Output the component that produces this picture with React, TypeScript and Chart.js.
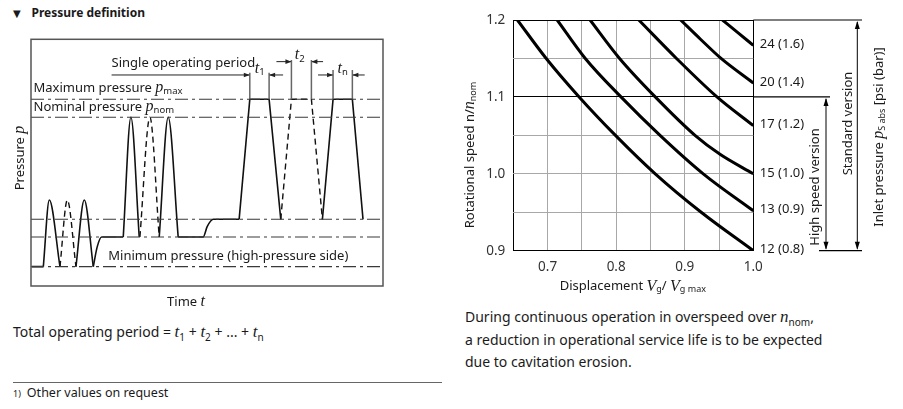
import React, { useEffect, useRef } from 'react';
import { Chart, registerables } from 'chart.js';

Chart.register(...registerables);

// ---------------- Right chart: rotational speed vs displacement ----------------
const curvePsi = [12, 13, 15, 17, 20, 24];
const curveBar = [0.8, 0.9, 1.0, 1.2, 1.4, 1.6];

const disp12 = [0.656, 0.698, 0.746, 0.799, 0.857, 0.924, 1.0];
const speed12 = [1.2, 1.15, 1.1, 1.05, 1.0, 0.95, 0.9];
const disp13 = [0.714, 0.755, 0.807, 0.864, 0.927, 1.0];
const speed13 = [1.2, 1.15, 1.1, 1.05, 1.0, 0.952];
const disp15 = [0.762, 0.805, 0.857, 0.915, 0.952, 1.0];
const speed15 = [1.2, 1.15, 1.1, 1.05, 1.025, 1.0];
const disp17 = [0.833, 0.888, 0.947, 1.0];
const speed17 = [1.2, 1.15, 1.1, 1.0626];
const disp20 = [0.894, 0.923, 0.953, 1.0];
const speed20 = [1.2, 1.175, 1.15, 1.118];
const disp24 = [0.955, 0.977, 1.0];
const speed24 = [1.2, 1.184, 1.167];

const xTickLabels = [0.7, 0.8, 0.9, 1.0];
const yTickLabels = [0.9, 1.0, 1.1, 1.2];
const blackXLines = [0.65, 1.0];
const blackYLines = [0.9, 1.1, 1.2];
const highSpeedRange = [0.9, 1.1];
const standardRange = [0.9, 1.2];

// ---------------- Left diagram: pressure definition (schematic units) ----------------
const levelP = [560, 506, 200, 147, 58]; // p max, p nom, two working levels, p min
const startFlatT = [2, 37];
const startFlatP = [58, 58];
const pulse1T = [37, 55, 87];
const pulse1P = [58, 258, 58];
const pulse2T = [87, 109, 135];
const pulse2P = [58, 258, 58];
const pulse3T = [135, 160, 187];
const pulse3P = [58, 258, 58];
const step1T = [187, 199, 212, 277];
const step1P = [58, 118, 147, 147];
const pulse4T = [277, 300, 325];
const pulse4P = [147, 506, 147];
const pulse5T = [327, 357, 385];
const pulse5P = [147, 506, 147];
const pulse6T = [385, 412, 442];
const pulse6P = [147, 506, 147];
const step2T = [442, 517, 529, 547, 625];
const step2P = [147, 147, 178, 200, 200];
const period1T = [625, 657, 715, 750];
const period2T = [750, 782, 842, 875];
const periodNT = [875, 907, 965, 997];
const periodP = [200, 560, 560, 200];
const markT = [657, 715, 782, 842, 907, 965];
const markTop = [640, 640, 678, 678, 648, 648];
const arrowSingleT = [242, 657];
const arrowT1T = [757, 715];
const arrowT2aT = [737, 782];
const arrowT2bT = [877, 842];
const arrowTnaT = [862, 907];
const arrowTnbT = [1002, 965];
const arrowP = [633, 633, 673, 673, 633, 633];

const SANS = '"Noto Sans", "Open Sans", "DejaVu Sans", sans-serif';
const SERIF = '"Liberation Serif", "DejaVu Serif", serif';
const INK = '#1a1a1a';

type Seg = { t: string; f: string; dy?: number };

function drawRich(
  ctx: CanvasRenderingContext2D,
  segs: Seg[],
  x: number,
  y: number,
  align: 'left' | 'center' = 'left',
  rot = 0,
  color = INK
) {
  ctx.save();
  ctx.translate(x, y);
  if (rot) ctx.rotate(rot);
  ctx.fillStyle = color;
  ctx.textBaseline = 'middle';
  ctx.textAlign = 'left';
  let w = 0;
  for (const s of segs) {
    ctx.font = s.f;
    w += ctx.measureText(s.t).width;
  }
  let cx = align === 'center' ? -w / 2 : 0;
  for (const s of segs) {
    ctx.font = s.f;
    ctx.fillText(s.t, cx, s.dy || 0);
    cx += ctx.measureText(s.t).width;
  }
  ctx.restore();
}

function head(ctx: CanvasRenderingContext2D, x: number, y: number, dx: number, dy: number, len = 7, half = 2.5) {
  ctx.beginPath();
  ctx.moveTo(x, y);
  ctx.lineTo(x - dx * len - dy * half, y - dy * len + dx * half);
  ctx.lineTo(x - dx * len + dy * half, y - dy * len - dx * half);
  ctx.closePath();
  ctx.fill();
}

const sans = (s: number, w = 400) => `${w} ${s}px ${SANS}`;
const ital = (s: number) => `italic ${s}px ${SERIF}`;

const near = (a: number, list: number[]) => list.some((v) => Math.abs(v - a) < 1e-6);

function pts(xs: number[], ys: number[]) {
  return xs.map((x, i) => ({ x, y: ys[i] }));
}

function LeftDiagram() {
  const ref = useRef<HTMLCanvasElement | null>(null);
  useEffect(() => {
    if (!ref.current) return;
    const solid = { borderColor: '#111', borderWidth: 1.6, pointRadius: 0, fill: false };
    const dashed = { ...solid, borderWidth: 1.4, borderDash: [6, 4] };
    const cubic = { cubicInterpolationMode: 'monotone' as const };
    const levelSets = levelP.map((p) => ({
      data: pts([0, 1057], [p, p]),
      borderColor: '#3a3a3a',
      borderWidth: 1.1,
      borderDash: [13, 4, 3, 4],
      pointRadius: 0,
    }));
    const markSets = markT.map((t, i) => ({
      data: pts([t, t], [560, markTop[i]]),
      borderColor: '#666',
      borderWidth: 1.5,
      pointRadius: 0,
    }));
    const arrowTs = [arrowSingleT, arrowT1T, arrowT2aT, arrowT2bT, arrowTnaT, arrowTnbT];
    const arrowSets = arrowTs.map((ts, i) => ({
      data: pts(ts, [arrowP[i], arrowP[i]]),
      borderColor: '#222',
      borderWidth: 1,
      pointRadius: 0,
      arrowEnd: true,
    }));
    const curveSets = [
      { data: pts(startFlatT, startFlatP), ...solid },
      { data: pts(pulse1T, pulse1P), ...solid, ...cubic },
      { data: pts(pulse2T, pulse2P), ...dashed, ...cubic },
      { data: pts(pulse3T, pulse3P), ...solid, ...cubic },
      { data: pts(step1T, step1P), ...solid, ...cubic },
      { data: pts(pulse4T, pulse4P), ...solid, ...cubic },
      { data: pts(pulse5T, pulse5P), ...dashed, ...cubic },
      { data: pts(pulse6T, pulse6P), ...solid, ...cubic },
      { data: pts(step2T, step2P), ...solid, ...cubic },
      { data: pts(period1T, periodP), ...solid },
      { data: pts(period2T, periodP), ...dashed },
      { data: pts(periodNT, periodP), ...solid },
    ];

    const overlay = {
      id: 'leftOverlay',
      afterDatasetsDraw(chart: any) {
        const { ctx, chartArea: a, scales } = chart;
        const xs = scales.x;
        const ys = scales.y;
        // arrow heads
        ctx.save();
        ctx.fillStyle = '#222';
        chart.data.datasets.forEach((ds: any, i: number) => {
          if (!ds.arrowEnd) return;
          const el = chart.getDatasetMeta(i).data;
          const p1 = el[el.length - 1];
          const p0 = el[el.length - 2];
          const dx = p1.x - p0.x;
          const dy = p1.y - p0.y;
          const l = Math.hypot(dx, dy) || 1;
          head(ctx, p1.x, p1.y, dx / l, dy / l, 6, 2.3);
        });
        ctx.restore();
        // frame
        ctx.save();
        ctx.strokeStyle = '#555';
        ctx.lineWidth = 1.5;
        ctx.strokeRect(a.left, a.top, a.right - a.left, a.bottom - a.top);
        ctx.restore();
        // labels
        const f = sans(13);
        drawRich(ctx, [{ t: 'Single operating period', f }], xs.getPixelForValue(242), ys.getPixelForValue(633) - 11.5);
        drawRich(ctx, [{ t: 'Maximum pressure ', f }, { t: 'p', f: ital(16) }, { t: 'max', f: sans(9.5), dy: 3 }], a.left + 2.5, ys.getPixelForValue(560) - 11.5);
        drawRich(ctx, [{ t: 'Nominal pressure ', f }, { t: 'p', f: ital(16) }, { t: 'nom', f: sans(9.5), dy: 3 }], a.left + 2.5, ys.getPixelForValue(506) - 10.5);
        drawRich(ctx, [{ t: 'Minimum pressure (high-pressure side)', f }], xs.getPixelForValue(232), ys.getPixelForValue(58) - 10);
        drawRich(ctx, [{ t: 't', f: ital(16) }, { t: '1', f: sans(9.5), dy: 4 }], xs.getPixelForValue(687), ys.getPixelForValue(653), 'center');
        drawRich(ctx, [{ t: 't', f: ital(16) }, { t: '2', f: sans(9.5), dy: 4 }], xs.getPixelForValue(807), ys.getPixelForValue(693), 'center');
        drawRich(ctx, [{ t: 't', f: ital(16) }, { t: 'n', f: sans(9.5), dy: 4 }], xs.getPixelForValue(936), ys.getPixelForValue(653), 'center');
        drawRich(ctx, [{ t: 'Pressure ', f }, { t: 'p', f: ital(16) }], a.left - 11, 128, 'center', -Math.PI / 2);
        drawRich(ctx, [{ t: 'Time ', f }, { t: 't', f: ital(16) }], 186, a.bottom + 16, 'center');
      },
    };

    const chart = new Chart(ref.current, {
      type: 'line',
      data: { datasets: [...levelSets, ...markSets, ...arrowSets, ...curveSets] as any },
      options: {
        animation: false,
        responsive: false,
        events: [],
        layout: { padding: { left: 31, top: 9.3, right: 67, bottom: 24 } },
        plugins: { legend: { display: false }, tooltip: { enabled: false } },
        scales: {
          x: { type: 'linear', min: 0, max: 1057, display: false },
          y: { type: 'linear', min: 0, max: 740, display: false },
        },
      },
      plugins: [overlay],
    });
    return () => chart.destroy();
  }, []);
  return <canvas ref={ref} width={450} height={280} style={{ position: 'absolute', left: 0, top: 30, display: 'block' }} />;
}

function SpeedChart() {
  const ref = useRef<HTMLCanvasElement | null>(null);
  useEffect(() => {
    if (!ref.current) return;
    const curveDisp = [disp12, disp13, disp15, disp17, disp20, disp24];
    const curveSpeed = [speed12, speed13, speed15, speed17, speed20, speed24];
    const datasets = curveDisp.map((d, i) => ({
      label: `${curvePsi[i]} (${curveBar[i].toFixed(1)})`,
      data: pts(d, curveSpeed[i]),
      borderColor: '#000',
      borderWidth: 3,
      pointRadius: 0,
      cubicInterpolationMode: 'monotone' as const,
      fill: false,
    }));

    const overlay = {
      id: 'rightOverlay',
      afterDraw(chart: any) {
        const { ctx, chartArea: a, scales } = chart;
        const y = scales.y;
        const x = scales.x;
        const yTop = y.getPixelForValue(1.2);
        const y11 = y.getPixelForValue(1.1);
        const yBot = y.getPixelForValue(0.9);
        ctx.save();
        ctx.strokeStyle = '#000';
        ctx.fillStyle = '#000';
        ctx.lineWidth = 1.2;
        const seg = (x0: number, y0: number, x1: number, y1: number) => {
          ctx.beginPath();
          ctx.moveTo(x0, y0);
          ctx.lineTo(x1, y1);
          ctx.stroke();
        };
        seg(a.right, yTop, 402, yTop);
        seg(a.right, y11, 370, y11);
        seg(359, yBot, 402, yBot);
        // double arrows
        const xHs = 366;
        const xStd = 397.3;
        ctx.lineWidth = 1;
        const hs0 = y.getPixelForValue(highSpeedRange[1]);
        const hs1 = y.getPixelForValue(highSpeedRange[0]);
        seg(xHs, hs0 + 2, xHs, hs1 - 2);
        head(ctx, xHs, hs0 + 1, 0, -1, 8, 2.5);
        head(ctx, xHs, hs1 - 1, 0, 1, 8, 2.5);
        const st0 = y.getPixelForValue(standardRange[1]);
        const st1 = y.getPixelForValue(standardRange[0]);
        seg(xStd, st0 + 2, xStd, st1 - 2);
        head(ctx, xStd, st0 + 1, 0, -1, 8, 2.5);
        head(ctx, xStd, st1 - 1, 0, 1, 8, 2.5);
        ctx.restore();

        // curve labels
        const f = sans(13);
        chart.data.datasets.forEach((ds: any) => {
          const last = ds.data[ds.data.length - 1];
          drawRich(ctx, [{ t: ds.label, f }], x.getPixelForValue(last.x) + 6.5, y.getPixelForValue(last.y) - 1);
        });

        // rotated side texts
        const R = -Math.PI / 2;
        drawRich(ctx, [{ t: 'High speed version', f }], 355, 187, 'center', R);
        drawRich(ctx, [{ t: 'Standard version', f }], 388, 123.5, 'center', R);
        drawRich(
          ctx,
          [
            { t: 'Inlet pressure ', f },
            { t: 'p', f: ital(16) },
            { t: 'S abs', f: sans(9), dy: 3 },
            { t: ' [psi (bar)]', f },
          ],
          419,
          137,
          'center',
          R
        );
        // axis titles
        drawRich(
          ctx,
          [
            { t: 'Rotational speed n/', f },
            { t: 'n', f: ital(16) },
            { t: 'nom', f: sans(9), dy: 3 },
          ],
          10,
          155,
          'center',
          R
        );
        drawRich(
          ctx,
          [
            { t: 'Displacement ', f },
            { t: 'V', f: ital(16) },
            { t: 'g', f: sans(9), dy: 3 },
            { t: '/ ', f },
            { t: 'V', f: ital(16) },
            { t: 'g max', f: sans(9), dy: 3 },
          ],
          (a.left + a.right) / 2 - 0.5,
          286.7,
          'center'
        );
      },
    };

    const chart = new Chart(ref.current, {
      type: 'line',
      data: { datasets: datasets as any },
      options: {
        animation: false,
        responsive: false,
        events: [],
        layout: { padding: { left: 0, top: 20, right: 149.7, bottom: 0 } },
        plugins: { legend: { display: false }, tooltip: { enabled: false } },
        scales: {
          x: {
            type: 'linear',
            min: 0.65,
            max: 1.0,
            afterFit: (s: any) => {
              s.height = 49.3;
            },
            border: { display: false },
            grid: {
              drawTicks: false,
              lineWidth: 1,
              color: (c: any) => (near(c.tick?.value, blackXLines) ? '#000' : '#a8a8a8'),
            },
            ticks: {
              stepSize: 0.05,
              autoSkip: false,
              maxRotation: 0,
              padding: 8,
              color: '#333',
              font: { family: SANS, size: 13.5 },
              callback: (v: any) => (near(Number(v), xTickLabels) ? Number(v).toFixed(1) : ''),
            },
          },
          y: {
            type: 'linear',
            min: 0.9,
            max: 1.2,
            afterFit: (s: any) => {
              s.width = 53.3;
            },
            border: { display: false },
            grid: {
              drawTicks: false,
              lineWidth: 1,
              color: (c: any) => (near(c.tick?.value, blackYLines) ? '#000' : '#a8a8a8'),
            },
            ticks: {
              stepSize: 0.05,
              autoSkip: false,
              padding: 8,
              color: '#333',
              font: { family: SANS, size: 13.5 },
              callback: (v: any) => (near(Number(v), yTickLabels) ? Number(v).toFixed(1) : ''),
            },
          },
        },
      },
      plugins: [overlay],
    });
    return () => chart.destroy();
  }, []);
  return <canvas ref={ref} width={443} height={300} style={{ position: 'absolute', left: 460, top: 0, display: 'block' }} />;
}

const subStyle: React.CSSProperties = { fontSize: 10, position: 'relative', top: 4 };
const italT: React.CSSProperties = { fontFamily: SERIF, fontStyle: 'italic', fontSize: 17 };

export default function App() {
  return (
    <div
      style={{
        position: 'absolute',
        left: 0,
        top: 0,
        width: 903,
        height: 409,
        overflow: 'hidden',
        background: '#fff',
        fontFamily: SANS,
        color: INK,
      }}
    >
      <span style={{ position: 'absolute', left: 13, top: 5, fontSize: 10, lineHeight: '16px' }}>▼</span>
      <span style={{ position: 'absolute', left: 31.5, top: 5, fontSize: 12, fontWeight: 700, lineHeight: '16px' }}>
        Pressure definition
      </span>
      <LeftDiagram />
      <SpeedChart />
      <div style={{ position: 'absolute', left: 13, top: 320.5, fontSize: 14, lineHeight: '22px', whiteSpace: 'nowrap' }}>
        Total operating period = <span style={italT}>t</span>
        <span style={subStyle}>1</span> + <span style={italT}>t</span>
        <span style={subStyle}>2</span> + ... + <span style={italT}>t</span>
        <span style={subStyle}>n</span>
      </div>
      <div style={{ position: 'absolute', left: 13, top: 382, width: 429, height: 1, background: '#666' }} />
      <div style={{ position: 'absolute', left: 13, top: 384, fontSize: 12.5, lineHeight: '18px', whiteSpace: 'nowrap' }}>
        <span style={{ fontSize: 9, marginRight: 6 }}>1)</span>Other values on request
      </div>
      <div style={{ position: 'absolute', left: 465, top: 305.5, fontSize: 14, lineHeight: '22px', whiteSpace: 'nowrap' }}>
        <div>
          During continuous operation in overspeed over <span style={italT}>n</span>
          <span style={subStyle}>nom</span>,
        </div>
        <div>a reduction in operational service life is to be expected</div>
        <div>due to cavitation erosion.</div>
      </div>
    </div>
  );
}
